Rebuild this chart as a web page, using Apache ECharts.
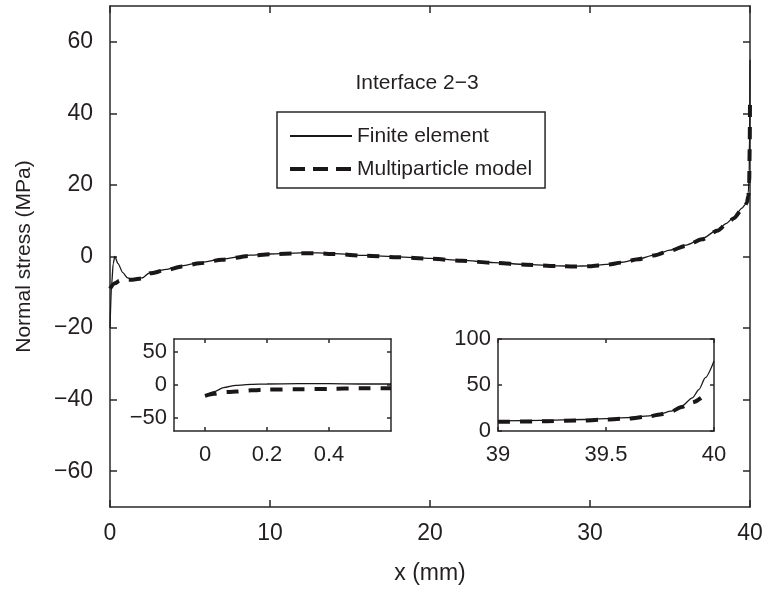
<!DOCTYPE html>
<html>
<head>
<meta charset="utf-8">
<script src="https://cdn.jsdelivr.net/npm/echarts@6/dist/echarts.min.js"></script>
<style>html,body{margin:0;padding:0;background:#fff}#c{width:766px;height:590px}</style>
</head>
<body>
<div id="c"></div>
<script>
// ---- data ----
const feX = [0, 0.1, 0.2, 0.3, 0.5, 0.8, 1.1, 1.4, 2, 2.5, 3.5, 4.5, 5.6, 7, 8.75, 10, 11.9, 13, 14, 16, 18, 20, 22, 24, 26, 28, 29, 30, 31, 32, 33, 34, 35, 36, 37, 38, 38.5, 39, 39.5, 39.7, 39.8, 39.9, 39.95, 39.98, 40];
const feY = [-20, -8, -2, 0, -2, -4.5, -6, -6.4, -6, -4.5, -3.6, -2.6, -1.7, -0.7, 0.4, 0.7, 1, 1, 0.8, 0.3, -0.1, -0.5, -1.1, -1.7, -2.2, -2.6, -2.7, -2.6, -2.2, -1.6, -0.7, 0.4, 1.8, 3.2, 5, 7.5, 9.2, 11, 13.5, 14.5, 15.5, 18, 24, 35, 55];
const mpX = [0, 0.3, 0.6, 1, 1.4, 2, 2.5, 3.5, 4.5, 5.6, 7, 8.75, 10, 11.9, 13, 14, 16, 18, 20, 22, 24, 26, 28, 29, 30, 31, 32, 33, 34, 35, 36, 37, 38, 38.5, 39, 39.5, 39.7, 39.8, 39.9, 39.95, 39.98, 40];
const mpY = [-9, -7.5, -6.8, -6.5, -6.5, -6.1, -4.7, -3.8, -2.8, -1.9, -0.9, 0.2, 0.6, 0.9, 0.9, 0.7, 0.2, -0.2, -0.6, -1.2, -1.8, -2.3, -2.7, -2.8, -2.7, -2.3, -1.7, -0.8, 0.3, 1.6, 3, 4.8, 7.3, 9, 10.7, 13.2, 14.2, 15, 17, 21, 30, 44];
const in1X = [0, 0.03, 0.06, 0.1, 0.15, 0.2, 0.3, 0.4, 0.5, 0.6];
const in1FE = [-16, -10, -4, -0.5, 1, 1.5, 2, 2, 1.5, 1.5];
const in1MP = [-16.5, -13.5, -11, -10, -8, -7, -6.5, -6, -5, -5];
const in2X = [39, 39.2, 39.4, 39.5, 39.6, 39.7, 39.75, 39.8, 39.85, 39.9, 39.93, 39.96, 40];
const in2FE = [11, 11.5, 12.5, 13.5, 14.5, 16.5, 18.5, 21.5, 27, 36, 45, 58, 76];
const in2MPX = [39, 39.2, 39.4, 39.5, 39.6, 39.7, 39.75, 39.8, 39.85, 39.9, 39.94];
const in2MP = [10, 10.5, 11.5, 12.5, 13.5, 16, 18, 21, 26, 31, 36];
const mainYTicks = [-60, -40, -20, 0, 20, 40, 60];
const in1XTicks = [0, 0.2, 0.4];
const in1YTicks = [-50, 0, 50];
const names = ['Finite element', 'Multiparticle model'];

const zip = (xs, ys) => xs.map((x, i) => [x, ys[i]]);
const AX = '#2b2728';
const TXT = '#231f20';
const FONT = 'Liberation Sans';
const minus = v => String(v).replace('-', '\u2212');

function axis(o) {
  const base = {
    axisLine: { show: true, onZero: false, lineStyle: { color: AX, width: 1.5 } },
    axisTick: { show: true, inside: true, length: o.tl || 7, lineStyle: { color: AX, width: 1.5 } },
    axisLabel: { show: !o.mirror, color: TXT, fontFamily: FONT, fontSize: o.fs || 23, margin: o.margin, formatter: minus },
    splitLine: { show: false },
    type: 'value'
  };
  if (o.customTicks) {
    base.axisTick.customValues = o.customTicks;
    base.axisLabel.customValues = o.customTicks;
  }
  return Object.assign(base, o.extra);
}

const chart = echarts.init(document.getElementById('c'), null, { renderer: 'canvas' });

const xAxes = [
  axis({ extra: { gridIndex: 0, min: 0, max: 40, interval: 10, position: 'bottom', name: 'x (mm)', nameLocation: 'middle', nameGap: 55, nameTextStyle: { color: TXT, fontFamily: FONT, fontSize: 23 } }, margin: 15 }),
  axis({ mirror: true, extra: { gridIndex: 0, min: 0, max: 40, interval: 10, position: 'top' } }),
  axis({ customTicks: in1XTicks, tl: 4, fs: 22, margin: 13, extra: { gridIndex: 1, min: -0.1, max: 0.6, position: 'bottom', zlevel: 1 } }),
  axis({ mirror: true, customTicks: in1XTicks, tl: 4, extra: { gridIndex: 1, min: -0.1, max: 0.6, position: 'top', zlevel: 1 } }),
  axis({ tl: 4, fs: 22, margin: 13, extra: { gridIndex: 2, min: 39, max: 40, interval: 0.5, position: 'bottom', zlevel: 1 } }),
  axis({ mirror: true, tl: 4, extra: { gridIndex: 2, min: 39, max: 40, interval: 0.5, position: 'top', zlevel: 1 } })
];
const yAxes = [
  axis({ customTicks: mainYTicks, margin: 17, extra: { gridIndex: 0, min: -70, max: 70, position: 'left', name: 'Normal stress (MPa)', nameLocation: 'middle', nameGap: 75, nameTextStyle: { color: TXT, fontFamily: FONT, fontSize: 21 } } }),
  axis({ mirror: true, customTicks: mainYTicks, extra: { gridIndex: 0, min: -70, max: 70, position: 'right' } }),
  axis({ customTicks: in1YTicks, tl: 4, fs: 22, margin: 7, extra: { gridIndex: 1, min: -70, max: 70, position: 'left', zlevel: 1 } }),
  axis({ mirror: true, customTicks: in1YTicks, tl: 4, extra: { gridIndex: 1, min: -70, max: 70, position: 'right', zlevel: 1 } }),
  axis({ tl: 4, fs: 22, margin: 7, extra: { gridIndex: 2, min: 0, max: 100, interval: 50, position: 'left', zlevel: 1 } }),
  axis({ mirror: true, tl: 4, extra: { gridIndex: 2, min: 0, max: 100, interval: 50, position: 'right', zlevel: 1 } })
];

const solid = { color: '#1a1718', width: 1.3, type: 'solid' };
const dashed = { color: '#1a1718', width: 4, type: [12, 10] };
function line(name, data, xi, yi, ls, zl) {
  return { name, type: 'line', data, xAxisIndex: xi, yAxisIndex: yi, showSymbol: false, symbol: 'none',
    smooth: 0.25, smoothMonotone: 'x', lineStyle: ls, itemStyle: { color: '#1a1718' }, zlevel: zl || 0, z: 3, animation: false, clip: true };
}

chart.setOption({
  animation: false,
  backgroundColor: '#fff',
  grid: [
    { left: 110, top: 6, width: 640, height: 505 },
    { left: 174, top: 339, width: 217, height: 92, show: true, backgroundColor: '#fff', borderWidth: 0, zlevel: 1 },
    { left: 498, top: 339, width: 216, height: 92, show: true, backgroundColor: '#fff', borderWidth: 0, zlevel: 1 }
  ],
  xAxis: xAxes,
  yAxis: yAxes,
  legend: {
    data: [
      { name: names[0] },
      { name: names[1], lineStyle: { type: [15, 8], width: 4 } }
    ],
    orient: 'vertical', left: 277, top: 112,
    padding: [13, 13, 8, 11],
    itemWidth: 62, itemHeight: 14, itemGap: 11,
    itemStyle: { color: 'rgba(0,0,0,0)', borderColor: 'rgba(0,0,0,0)', borderWidth: 0 },
    borderColor: AX, borderWidth: 1.5,
    textStyle: { color: TXT, fontFamily: FONT, fontSize: 21, lineHeight: 22 },
    selectedMode: false
  },
  graphic: [
    { type: 'text', x: 417, y: 83, style: { text: 'Interface 2\u22123', fill: TXT, font: '21px "Liberation Sans"', textAlign: 'center', textVerticalAlign: 'middle' } }
  ],
  series: [
    line(names[0], zip(feX, feY), 0, 0, solid),
    line(names[1], zip(mpX, mpY), 0, 0, dashed),
    line(names[0], zip(in1X, in1FE), 2, 2, solid, 1),
    line(names[1], zip(in1X, in1MP), 2, 2, dashed, 1),
    line(names[0], zip(in2X, in2FE), 4, 4, solid, 1),
    line(names[1], zip(in2MPX, in2MP), 4, 4, dashed, 1)
  ]
});
</script>
</body>
</html>
